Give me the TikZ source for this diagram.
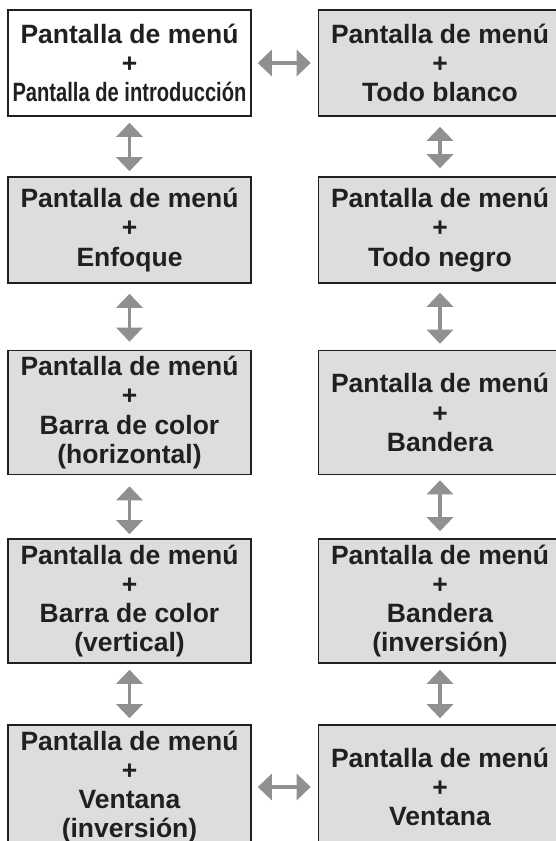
\documentclass[tikz,border=0pt]{standalone}
\usepackage{fontspec}
\setmainfont{Liberation Sans}
\usepackage{graphicx}
\usepackage{xcolor}
\usetikzlibrary{positioning,arrows.meta}
\definecolor{panelgray}{HTML}{DCDDDE}
\definecolor{linkgray}{HTML}{8F9092}
\definecolor{framedark}{HTML}{231F20}
\tikzset{
  screen/.style={draw=framedark,line width=1.6pt,fill=panelgray,align=center,
    font=\fontsize{26.5}{29.2}\selectfont\bfseries,text=framedark,
    minimum width=243pt,inner sep=0pt},
  threeline/.style={minimum height=106pt},
  fourline/.style={minimum height=124pt},
  link/.style={<->,draw=linkgray,line width=3.2pt}
}

\begin{document}
\begin{tikzpicture}[x=1pt,y=-1pt,>={Triangle[length=14pt,width=26pt]}]
\useasboundingbox (0,0) rectangle (556,841);
\clip (0,0) rectangle (556,841);
% left column
\node[screen,threeline,fill=white] (intro) at (129.5,63) {Pantalla de menú\\+\\\scalebox{0.76}[1]{Pantalla de introducción}};
\node[screen,threeline] (focus) at (129.5,230) {Pantalla de menú\\+\\Enfoque};
\node[screen,fourline] (hbar) at (129.5,412.5) {Pantalla de menú\\+\\Barra de color\\(horizontal)};
\node[screen,fourline] (vbar) at (129.5,601) {Pantalla de menú\\+\\Barra de color\\(vertical)};
\node[screen,fourline] (winv) at (129.5,787) {Pantalla de menú\\+\\Ventana\\(inversión)};
% right column
\node[screen,threeline] (white) at (440,63) {Pantalla de menú\\+\\Todo blanco};
\node[screen,threeline] (black) at (440,230) {Pantalla de menú\\+\\Todo negro};
\node[screen,fourline] (flag) at (440,412.5) {Pantalla de menú\\+\\Bandera};
\node[screen,fourline] (finv) at (440,601) {Pantalla de menú\\+\\Bandera\\(inversión)};
\node[screen,fourline] (win) at (440,787) {Pantalla de menú\\+\\Ventana};
% links
\draw[link,shorten <=6pt,shorten >=7pt] (intro) -- (white);
\draw[link,shorten <=6pt,shorten >=7pt] (winv) -- (win);
\draw[link,shorten <=6pt,shorten >=5pt] (intro) -- (focus);
\draw[link,shorten <=10pt,shorten >=8pt] (focus) -- (hbar);
\draw[link,shorten <=11pt,shorten >=4pt] (hbar) -- (vbar);
\draw[link,shorten <=6pt,shorten >=6pt] (vbar) -- (winv);
\draw[link,shorten <=10pt,shorten >=8pt] (white) -- (black);
\draw[link,shorten <=9pt,shorten >=6pt] (black) -- (flag);
\draw[link,shorten <=5pt,shorten >=7pt] (flag) -- (finv);
\draw[link,shorten <=6pt,shorten >=6pt] (finv) -- (win);
\end{tikzpicture}
\end{document}
